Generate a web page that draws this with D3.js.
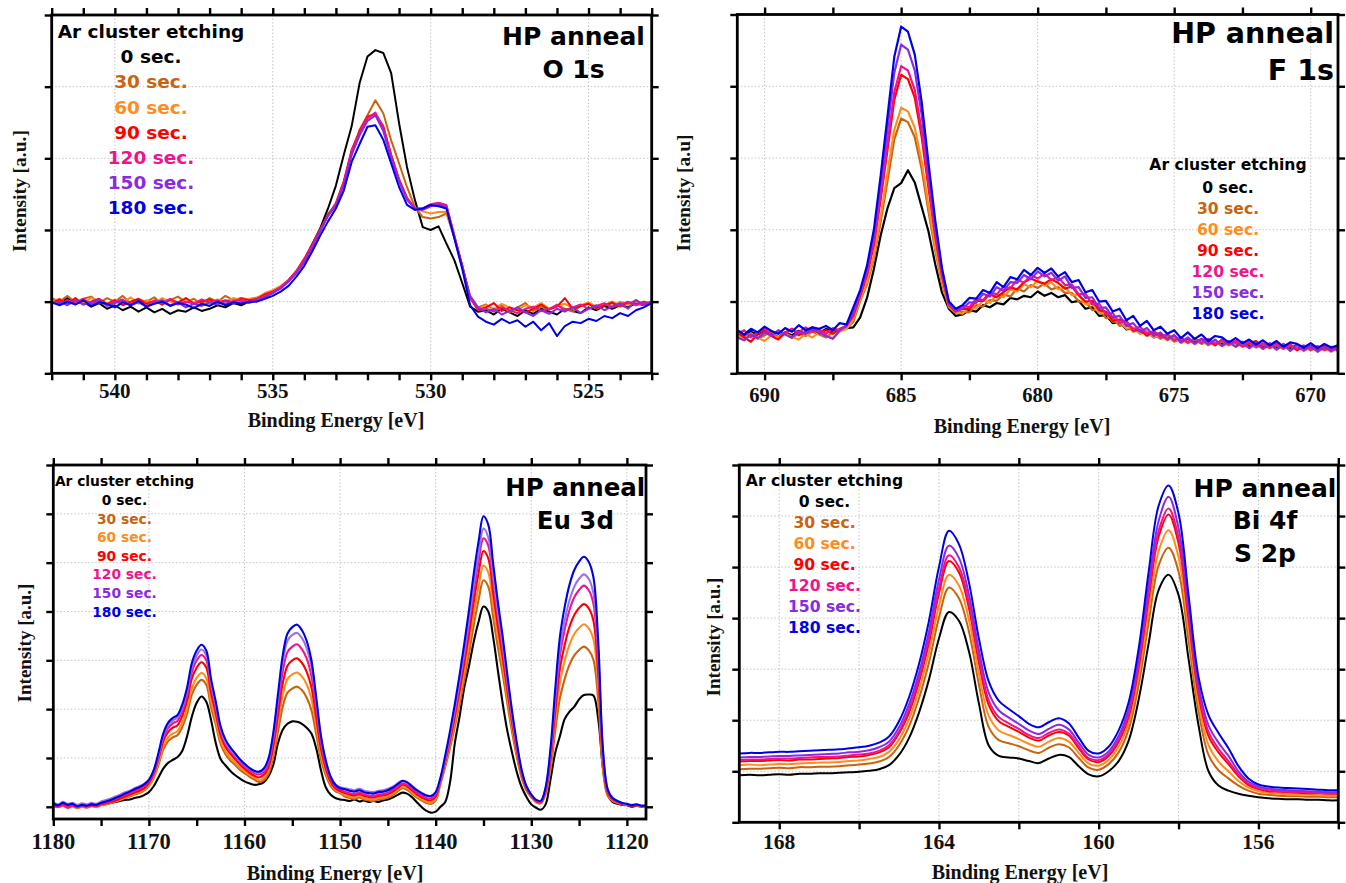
<!DOCTYPE html>
<html>
<head>
<meta charset="utf-8">
<script src="https://cdn.jsdelivr.net/npm/d3@7"></script>
<style>
  html, body { margin: 0; padding: 0; background: #ffffff; }
  svg { display: block; }
</style>
</head>
<body>
<svg id="chart" width="1346" height="883"></svg>
<script>
// ---------------- data ----------------
const etchLabels = ["0 sec.", "30 sec.", "60 sec.", "90 sec.", "120 sec.", "150 sec.", "180 sec."];
const legendTitle = "Ar cluster etching";

// O 1s : binding energy from 542 eV down, 0.25 eV per sample
const o1sStart = 542, o1sStep = 0.25;
const o1s_0 = [1.02,0.98,1.05,0.97,1.0,0.93,0.98,0.9,0.95,0.88,0.93,0.86,0.92,0.85,0.9,0.83,0.88,0.86,0.92,0.87,0.9,0.95,0.92,0.98,0.95,1.0,
  1.02,1.08,1.12,1.2,1.3,1.42,1.58,1.8,2.02,2.3,2.62,
  3.05,3.45,4.05,4.42,4.51,4.47,4.19,3.49,2.88,2.42,2.04,2.0,2.05,1.81,1.58,1.26,0.93,0.86,
  0.88,0.82,0.9,0.85,0.8,0.88,0.83,0.9,0.86,0.82,0.9,0.87,0.84,0.92,0.88,0.94,0.9,0.95,0.92,0.98,0.95,1.0];
const o1s_30 = [1.05,1.0,1.08,0.99,1.04,1.07,0.98,1.05,1.0,1.08,0.97,1.03,1.0,1.06,0.96,1.02,1.07,0.99,1.04,0.97,1.05,1.0,1.08,1.02,1.05,1.03,
  1.06,1.1,1.15,1.2,1.28,1.4,1.55,1.75,1.98,2.2,2.38,
  2.68,3.05,3.4,3.6,3.81,3.63,3.25,2.93,2.6,2.32,2.18,2.16,2.18,2.23,1.9,1.5,1.05,0.92,
  0.96,0.88,0.95,0.85,0.92,0.98,0.87,0.93,0.89,0.96,0.9,0.86,0.94,0.98,0.9,0.95,1.0,0.93,0.97,1.02,0.95,0.98];
const o1s_60 = [1.0,1.04,0.96,1.02,0.98,1.05,1.01,0.95,1.03,0.99,1.06,0.97,1.02,0.98,1.05,1.0,0.96,1.04,0.99,1.02,0.97,1.03,1.0,1.05,1.02,1.04,
  1.05,1.12,1.16,1.22,1.3,1.42,1.58,1.78,2.0,2.2,2.35,
  2.65,3.1,3.35,3.55,3.6,3.42,3.05,2.72,2.45,2.3,2.26,2.23,2.25,2.25,1.9,1.5,1.05,0.9,
  0.95,0.9,0.97,0.92,0.88,0.95,0.92,0.98,0.9,0.94,0.97,0.91,0.95,0.99,0.93,0.97,0.94,1.0,0.96,0.99,0.97,1.0];
const o1s_90 = [0.98,1.03,0.97,1.05,0.96,1.0,1.04,0.97,1.02,0.95,1.0,1.04,0.97,1.01,0.96,1.03,0.99,1.05,0.97,1.0,1.03,0.98,1.02,0.99,1.04,1.02,
  1.04,1.1,1.14,1.2,1.3,1.43,1.6,1.8,2.0,2.22,2.36,
  2.68,3.12,3.38,3.58,3.62,3.45,3.05,2.7,2.45,2.3,2.3,2.35,2.37,2.33,1.92,1.5,1.05,0.88,
  0.92,0.98,0.87,0.92,0.88,0.85,0.9,0.96,0.89,0.93,1.05,0.9,0.94,0.97,0.91,0.95,0.98,0.94,0.99,0.96,1.0,0.97];
const o1s_120 = [1.0,0.96,1.02,0.98,1.04,0.97,1.01,0.95,1.0,1.03,0.96,1.0,0.94,1.02,0.98,1.04,0.96,1.0,0.97,1.03,0.99,1.02,0.97,1.01,1.03,1.0,
  1.03,1.08,1.13,1.2,1.3,1.42,1.58,1.78,2.0,2.2,2.36,
  2.66,3.1,3.36,3.56,3.64,3.42,3.02,2.7,2.44,2.3,2.3,2.36,2.38,2.35,1.92,1.5,1.06,0.9,
  0.9,0.86,0.92,0.88,0.84,0.9,0.93,0.87,0.9,0.95,0.88,0.92,0.96,0.9,0.94,0.98,0.92,0.96,1.0,0.95,0.98,0.96];
const o1s_150 = [0.97,1.0,0.95,1.02,0.96,0.99,1.03,0.94,0.98,1.01,0.95,0.99,0.93,0.98,1.02,0.95,0.99,0.92,0.97,0.94,0.99,0.96,1.01,0.97,1.0,0.98,
  1.02,1.06,1.12,1.18,1.28,1.4,1.55,1.76,1.98,2.2,2.34,
  2.62,3.05,3.32,3.52,3.6,3.38,3.0,2.68,2.42,2.3,2.28,2.33,2.35,2.32,1.9,1.48,1.08,0.92,
  0.85,0.9,0.82,0.87,0.92,0.85,0.8,0.88,0.83,0.9,0.86,0.92,0.84,0.9,0.95,0.88,0.93,0.98,0.9,1.02,0.96,1.0];
const o1s_180 = [0.99,0.95,1.0,0.96,1.02,0.94,0.99,0.97,0.92,0.99,0.95,1.01,0.93,0.97,1.0,0.94,0.98,0.96,0.91,0.97,0.94,1.0,0.95,0.99,0.97,1.0,
  1.0,1.04,1.08,1.14,1.22,1.35,1.5,1.7,1.92,2.12,2.3,
  2.55,2.95,3.2,3.44,3.46,3.26,2.93,2.6,2.35,2.28,2.3,2.35,2.33,2.3,1.88,1.46,0.95,0.79,
  0.72,0.68,0.76,0.7,0.74,0.65,0.72,0.6,0.7,0.52,0.66,0.72,0.7,0.76,0.73,0.8,0.77,0.84,0.8,0.88,0.92,0.98];

// F 1s : from 691 eV down, 0.25 eV per sample
const f1sStart = 691, f1sStep = 0.25;
const f1s_0 = [0.6,0.52,0.58,0.54,0.6,0.55,0.5,0.57,0.53,0.59,0.55,0.6,0.56,0.62,0.58,0.6,0.63,
  0.64,0.78,1.05,1.45,1.92,2.3,2.58,2.65,2.83,2.66,2.32,1.98,1.52,1.12,0.9,0.8,
  0.82,0.88,0.86,0.95,0.92,0.98,0.96,1.05,1.03,1.08,1.06,1.14,1.08,1.12,1.06,1.09,0.99,1.01,0.9,0.92,
  0.8,0.81,0.7,0.72,0.61,0.63,0.56,0.58,0.5,0.53,0.47,0.5,
  0.44,0.47,0.43,0.46,0.41,0.45,0.4,0.44,0.42,0.39,0.38,0.42,0.37,0.41,0.36,0.4,0.35,0.39,0.34,0.38,0.36,0.37,0.33,0.36];
const f1s_30 = [0.55,0.5,0.56,0.48,0.53,0.58,0.5,0.55,0.49,0.56,0.52,0.58,0.54,0.5,0.57,0.6,0.62,
  0.72,1.01,1.24,1.59,2.11,2.68,3.26,3.55,3.5,3.29,2.85,2.26,1.71,1.25,0.92,0.84,
  0.86,0.85,0.95,0.93,1.02,1.01,1.1,1.07,1.18,1.14,1.23,1.19,1.25,1.17,1.2,1.12,1.12,1.0,1.0,0.88,
  0.89,0.77,0.78,0.66,0.68,0.58,0.61,0.52,0.56,0.48,0.52,0.44,
  0.48,0.42,0.47,0.41,0.45,0.4,0.44,0.39,0.43,0.38,0.41,0.36,0.4,0.35,0.39,0.34,0.38,0.33,0.37,0.32,0.36,0.32,0.35,0.31];
const f1s_60 = [0.52,0.47,0.55,0.5,0.45,0.53,0.49,0.56,0.51,0.47,0.55,0.5,0.57,0.52,0.49,0.58,0.62,
  0.75,1.03,1.27,1.64,2.19,2.79,3.39,3.7,3.65,3.42,2.96,2.34,1.76,1.28,0.93,0.85,
  0.83,0.92,0.9,1.02,0.98,1.1,1.06,1.17,1.14,1.24,1.2,1.29,1.22,1.27,1.17,1.2,1.09,1.1,0.96,0.97,
  0.84,0.84,0.72,0.73,0.62,0.64,0.55,0.58,0.5,0.53,0.46,0.5,
  0.42,0.47,0.41,0.45,0.39,0.44,0.38,0.42,0.37,0.41,0.35,0.4,0.34,0.39,0.33,0.38,0.32,0.37,0.31,0.36,0.31,0.35,0.3,0.35];
const f1s_90 = [0.58,0.5,0.44,0.55,0.6,0.52,0.47,0.57,0.62,0.53,0.58,0.64,0.56,0.6,0.55,0.62,0.66,
  0.8,1.08,1.37,1.79,2.42,3.11,3.81,4.16,4.1,3.84,3.3,2.59,1.91,1.35,0.95,0.86,
  0.9,0.89,1.01,1.01,1.1,1.06,1.13,1.2,1.17,1.27,1.32,1.28,1.25,1.31,1.26,1.18,1.21,1.09,1.0,1.01,
  0.88,0.86,0.73,0.75,0.72,0.6,0.6,0.53,0.58,0.53,0.48,0.53,
  0.44,0.48,0.42,0.48,0.45,0.39,0.47,0.41,0.45,0.37,0.42,0.45,0.36,0.38,0.42,0.36,0.4,0.32,0.38,0.37,0.32,0.39,0.33,0.37];
const f1s_120 = [0.55,0.6,0.5,0.57,0.63,0.53,0.59,0.55,0.62,0.57,0.64,0.58,0.61,0.55,0.63,0.6,0.67,
  0.82,1.1,1.39,1.83,2.48,3.2,3.92,4.28,4.22,3.95,3.39,2.65,1.95,1.37,0.96,0.87,
  0.94,0.92,1.04,1.02,1.13,1.1,1.21,1.18,1.31,1.26,1.37,1.32,1.39,1.3,1.34,1.23,1.24,1.1,1.11,0.96,
  0.97,0.82,0.84,0.7,0.73,0.61,0.65,0.55,0.59,0.5,0.55,0.46,
  0.5,0.43,0.49,0.42,0.48,0.41,0.46,0.4,0.45,0.38,0.44,0.37,0.42,0.36,0.41,0.35,0.4,0.34,0.39,0.33,0.38,0.33,0.37,0.32];
const f1s_150 = [0.5,0.46,0.54,0.49,0.57,0.52,0.6,0.54,0.5,0.58,0.55,0.62,0.57,0.52,0.48,0.6,0.66,
  0.85,1.13,1.45,1.92,2.63,3.41,4.19,4.58,4.51,4.22,3.61,2.81,2.05,1.42,0.98,0.88,
  0.9,0.99,0.98,1.11,1.07,1.2,1.15,1.27,1.26,1.37,1.31,1.42,1.35,1.4,1.29,1.35,1.19,1.2,1.05,1.06,
  0.91,0.92,0.78,0.8,0.66,0.7,0.58,0.63,0.52,0.57,0.47,0.53,
  0.43,0.5,0.41,0.48,0.4,0.47,0.38,0.45,0.37,0.44,0.35,0.43,0.34,0.42,0.33,0.41,0.31,0.4,0.32,0.38,0.3,0.37,0.31,0.36];
const f1s_180 = [0.6,0.54,0.62,0.57,0.65,0.59,0.55,0.63,0.58,0.67,0.6,0.64,0.62,0.66,0.6,0.7,0.68,
  0.92,1.16,1.5,2.0,2.75,3.58,4.41,4.83,4.76,4.44,3.79,2.94,2.13,1.46,1.0,0.9,
  0.95,1.05,1.04,1.16,1.12,1.27,1.2,1.34,1.31,1.44,1.37,1.47,1.4,1.46,1.35,1.41,1.27,1.3,1.13,1.16,
  1.0,1.01,0.86,0.9,0.74,0.8,0.66,0.73,0.6,0.65,0.55,0.6,
  0.49,0.57,0.48,0.54,0.45,0.52,0.5,0.43,0.49,0.42,0.47,0.4,0.46,0.39,0.45,0.37,0.43,0.41,0.36,0.42,0.35,0.41,0.36,0.39];

// Eu 3d : from 1180 eV down, 0.5 eV per sample
const eu3dStart = 1180, eu3dStep = 0.5;
const eu3d_0 = [0.04,0.0,0.05,0.01,0.03,-0.01,0.02,0.0,0.03,0.01,0.04,0.06,0.08,0.1,0.12,0.14,0.15,0.18,0.2,0.24,
  0.3,0.42,0.6,0.78,0.9,0.96,1.02,1.15,1.45,1.85,2.13,2.26,2.15,1.78,1.3,0.98,0.85,0.74,0.65,0.58,0.52,0.48,0.45,0.46,
  0.5,0.62,0.85,1.3,1.58,1.7,1.75,1.74,1.7,1.62,1.5,1.2,0.75,0.4,0.25,0.18,0.15,
  0.14,0.12,0.15,0.11,0.13,0.1,0.12,0.1,0.13,0.15,0.19,0.24,0.29,0.27,0.2,0.1,0.0,-0.08,-0.12,-0.1,
  0.0,0.1,0.5,1.3,1.85,2.45,2.9,3.4,3.8,4.1,4.0,3.49,2.8,2.13,1.55,1.1,0.7,0.4,0.2,0.05,-0.02,-0.06,
  0.05,0.55,1.1,1.45,1.8,1.95,2.05,2.2,2.29,2.3,2.28,1.8,0.8,0.25,0.1,0.06,0.04,0.03,0.0,0.02,0.0,0.01];
const eu3d_30 = [0.01,-0.01,0.02,-0.02,0.01,-0.03,0.0,-0.02,0.01,0.0,0.03,0.05,0.08,0.11,0.14,0.18,0.21,0.25,0.28,0.33,
  0.43,0.59,0.86,1.17,1.34,1.42,1.47,1.64,1.91,2.3,2.5,2.6,2.5,2.04,1.68,1.29,1.08,0.95,0.86,0.76,0.69,0.62,0.56,0.51,
  0.54,0.67,1.01,1.53,2.05,2.34,2.42,2.46,2.39,2.24,1.98,1.49,0.97,0.65,0.43,0.32,0.28,
  0.21,0.18,0.16,0.19,0.15,0.13,0.12,0.15,0.16,0.19,0.24,0.31,0.38,0.35,0.27,0.19,0.13,0.08,0.06,0.13,
  0.47,0.82,1.21,1.64,2.11,2.61,3.16,3.74,4.25,4.64,4.51,3.9,3.28,2.73,2.11,1.52,1.01,0.59,0.33,0.2,0.09,0.07,
  0.26,0.75,1.54,2.23,2.62,2.91,3.1,3.21,3.28,3.21,3.01,2.18,0.75,0.22,0.12,0.08,0.05,0.04,0.02,0.03,0.01,0.02];
const eu3d_60 = [0.02,0.0,0.03,-0.01,0.02,-0.02,0.01,0.0,0.02,0.0,0.04,0.06,0.09,0.12,0.15,0.19,0.23,0.27,0.3,0.35,
  0.45,0.62,0.91,1.24,1.42,1.5,1.55,1.73,2.02,2.43,2.64,2.74,2.64,2.16,1.77,1.36,1.14,1.01,0.91,0.81,0.73,0.66,0.61,0.55,
  0.59,0.74,1.12,1.7,2.29,2.62,2.71,2.75,2.67,2.51,2.21,1.67,1.08,0.72,0.48,0.35,0.3,
  0.24,0.21,0.19,0.22,0.18,0.16,0.15,0.18,0.19,0.22,0.27,0.34,0.41,0.38,0.3,0.22,0.16,0.11,0.08,0.16,
  0.5,0.87,1.29,1.74,2.24,2.78,3.36,3.98,4.52,4.94,4.8,4.15,3.49,2.9,2.24,1.62,1.08,0.62,0.35,0.21,0.1,0.08,
  0.29,0.85,1.75,2.55,2.99,3.32,3.54,3.66,3.74,3.66,3.43,2.48,0.85,0.26,0.13,0.09,0.06,0.04,0.03,0.03,0.01,0.02];
const eu3d_90 = [0.03,0.01,0.04,0.0,0.03,0.0,0.02,0.01,0.03,0.01,0.05,0.07,0.1,0.13,0.17,0.21,0.25,0.29,0.33,0.38,
  0.49,0.67,0.98,1.34,1.53,1.62,1.67,1.87,2.18,2.63,2.85,2.96,2.85,2.33,1.91,1.47,1.23,1.09,0.98,0.87,0.78,0.7,0.64,0.6,
  0.65,0.81,1.23,1.88,2.53,2.89,3.0,3.04,2.95,2.77,2.45,1.84,1.19,0.79,0.52,0.38,0.32,
  0.28,0.25,0.23,0.26,0.22,0.2,0.19,0.22,0.23,0.26,0.31,0.38,0.45,0.42,0.34,0.26,0.2,0.15,0.13,0.21,
  0.53,0.92,1.36,1.85,2.38,2.95,3.56,4.22,4.8,5.24,5.09,4.4,3.7,3.08,2.38,1.72,1.14,0.66,0.37,0.22,0.12,0.09,
  0.32,0.95,1.94,2.83,3.32,3.69,3.93,4.07,4.15,4.07,3.81,2.75,0.95,0.28,0.15,0.1,0.06,0.05,0.02,0.04,0.02,0.02];
const eu3d_120 = [0.04,0.0,0.05,-0.02,0.03,-0.01,0.02,0.0,0.03,0.02,0.06,0.09,0.12,0.16,0.2,0.24,0.28,0.33,0.37,0.43,
  0.52,0.7,1.03,1.41,1.61,1.71,1.76,1.97,2.3,2.76,3.0,3.11,3.0,2.45,2.01,1.55,1.29,1.14,1.03,0.92,0.82,0.75,0.69,0.66,
  0.7,0.88,1.34,2.06,2.77,3.17,3.28,3.33,3.23,3.04,2.68,2.01,1.3,0.85,0.56,0.41,0.35,
  0.31,0.28,0.26,0.29,0.25,0.23,0.22,0.25,0.26,0.29,0.34,0.41,0.48,0.45,0.37,0.29,0.23,0.18,0.17,0.25,
  0.56,0.97,1.43,1.94,2.5,3.1,3.75,4.44,5.04,5.5,5.35,4.63,3.89,3.24,2.5,1.8,1.2,0.69,0.39,0.23,0.13,0.1,
  0.35,1.04,2.12,3.09,3.63,4.03,4.29,4.44,4.53,4.44,4.16,3.01,1.04,0.31,0.16,0.1,0.07,0.04,0.03,0.04,0.01,0.02];
const eu3d_150 = [0.09,0.05,0.1,0.06,0.08,0.04,0.07,0.05,0.08,0.06,0.11,0.14,0.17,0.21,0.25,0.3,0.33,0.38,0.42,0.47,
  0.55,0.74,1.06,1.45,1.67,1.77,1.83,2.04,2.38,2.86,3.1,3.22,3.1,2.54,2.08,1.6,1.33,1.18,1.06,0.95,0.86,0.78,0.72,0.7,
  0.76,0.95,1.44,2.2,2.97,3.4,3.52,3.56,3.46,3.25,2.87,2.16,1.4,0.93,0.62,0.46,0.4,
  0.38,0.36,0.34,0.37,0.33,0.31,0.3,0.33,0.34,0.37,0.41,0.48,0.53,0.51,0.43,0.35,0.29,0.24,0.22,0.29,
  0.57,1.0,1.48,2.0,2.58,3.2,3.87,4.58,5.2,5.7,5.52,4.78,4.01,3.34,2.58,1.86,1.24,0.72,0.41,0.25,0.14,0.12,
  0.38,1.1,2.24,3.25,3.82,4.23,4.51,4.67,4.76,4.67,4.37,3.17,1.1,0.34,0.18,0.12,0.08,0.05,0.04,0.04,0.02,0.02];
const eu3d_180 = [0.07,0.03,0.08,0.04,0.06,0.01,0.04,0.02,0.05,0.04,0.08,0.11,0.14,0.18,0.22,0.27,0.31,0.36,0.4,0.46,
  0.55,0.75,1.1,1.5,1.72,1.82,1.88,2.1,2.45,2.95,3.2,3.32,3.2,2.62,2.15,1.65,1.38,1.22,1.1,0.98,0.88,0.8,0.74,0.72,
  0.78,0.98,1.5,2.3,3.1,3.55,3.68,3.73,3.62,3.4,3.0,2.25,1.45,0.95,0.62,0.45,0.38,
  0.36,0.33,0.31,0.34,0.3,0.28,0.27,0.3,0.31,0.34,0.39,0.46,0.53,0.5,0.42,0.34,0.28,0.23,0.22,0.3,
  0.6,1.05,1.55,2.1,2.7,3.35,4.05,4.8,5.45,5.95,5.78,5.0,4.2,3.5,2.7,1.95,1.3,0.75,0.42,0.25,0.14,0.12,
  0.4,1.17,2.4,3.49,4.1,4.55,4.85,5.02,5.12,5.02,4.7,3.4,1.17,0.35,0.18,0.12,0.08,0.06,0.03,0.05,0.02,0.03];

// Bi 4f / S 2p : from 169 eV down, 0.25 eV per sample
const bi4fStart = 169, bi4fStep = 0.25;
const bi4f_0 = [0.92,0.93,0.92,0.93,0.94,0.93,0.95,0.95,0.96,0.96,0.97,0.98,0.99,1.01,1.04,1.12,1.32,1.65,2.15,2.8,3.6,4.12,3.95,3.35,2.33,1.5,1.3,1.27,1.25,1.2,1.16,1.25,1.32,1.28,1.1,0.94,0.9,1.0,1.2,1.6,2.4,3.5,4.55,4.85,4.45,3.2,1.9,1.0,0.72,0.62,0.56,0.52,0.49,0.47,0.46,0.45,0.45,0.44,0.44,0.43,0.43];
const bi4f_30 = [1.04,1.05,1.05,1.06,1.07,1.06,1.08,1.08,1.09,1.09,1.1,1.12,1.13,1.15,1.19,1.28,1.51,1.88,2.43,3.13,4.01,4.6,4.39,3.74,2.7,1.86,1.61,1.55,1.49,1.41,1.36,1.46,1.53,1.47,1.26,1.07,1.03,1.14,1.37,1.82,2.69,3.91,5.03,5.38,4.91,3.56,2.18,1.32,1.02,0.86,0.72,0.62,0.56,0.54,0.52,0.51,0.51,0.5,0.5,0.49,0.49];
const bi4f_60 = [1.12,1.13,1.12,1.13,1.14,1.14,1.15,1.16,1.17,1.17,1.18,1.2,1.21,1.24,1.28,1.38,1.62,2.02,2.59,3.33,4.24,4.85,4.64,3.97,2.91,2.08,1.8,1.71,1.63,1.54,1.48,1.58,1.65,1.58,1.36,1.15,1.11,1.22,1.48,1.95,2.86,4.14,5.31,5.72,5.19,3.78,2.34,1.51,1.19,1.0,0.81,0.68,0.61,0.58,0.56,0.55,0.55,0.54,0.53,0.52,0.52];
const bi4f_90 = [1.19,1.2,1.2,1.21,1.22,1.21,1.23,1.23,1.24,1.25,1.26,1.28,1.29,1.32,1.37,1.47,1.74,2.15,2.75,3.52,4.48,5.12,4.9,4.2,3.13,2.29,1.98,1.87,1.77,1.66,1.6,1.7,1.77,1.7,1.45,1.23,1.18,1.3,1.58,2.07,3.03,4.38,5.59,6.03,5.46,3.99,2.5,1.69,1.37,1.14,0.9,0.73,0.65,0.61,0.6,0.59,0.58,0.57,0.57,0.56,0.56];
const bi4f_120 = [1.22,1.23,1.23,1.24,1.25,1.25,1.26,1.27,1.28,1.28,1.29,1.31,1.33,1.35,1.4,1.51,1.78,2.21,2.82,3.61,4.58,5.23,5.0,4.3,3.22,2.38,2.06,1.94,1.83,1.71,1.65,1.75,1.82,1.74,1.49,1.26,1.22,1.34,1.62,2.13,3.1,4.48,5.71,6.15,5.57,4.08,2.57,1.77,1.44,1.2,0.94,0.76,0.67,0.63,0.61,0.6,0.6,0.59,0.58,0.57,0.57];
const bi4f_150 = [1.27,1.28,1.28,1.29,1.3,1.3,1.31,1.32,1.33,1.34,1.35,1.37,1.38,1.41,1.47,1.58,1.86,2.31,2.93,3.74,4.75,5.42,5.18,4.46,3.37,2.53,2.19,2.05,1.93,1.8,1.73,1.83,1.91,1.82,1.56,1.32,1.27,1.39,1.69,2.22,3.22,4.65,5.9,6.38,5.76,4.23,2.68,1.9,1.56,1.3,1.0,0.8,0.7,0.66,0.64,0.63,0.62,0.61,0.6,0.59,0.59];
const bi4f_180 = [1.35,1.36,1.36,1.37,1.38,1.38,1.39,1.4,1.41,1.42,1.43,1.45,1.47,1.5,1.56,1.68,1.98,2.45,3.1,3.95,5.0,5.71,5.45,4.7,3.6,2.75,2.38,2.22,2.08,1.93,1.86,1.96,2.04,1.94,1.66,1.4,1.35,1.48,1.8,2.35,3.4,4.9,6.2,6.6,6.05,4.45,2.85,2.1,1.75,1.45,1.1,0.86,0.74,0.7,0.68,0.67,0.66,0.65,0.64,0.63,0.63];

// ---------------- drawing ----------------
const serif = "'Liberation Serif','Times New Roman',serif";
const sans = "'DejaVu Sans',Verdana,sans-serif";
const lineColors = ["#000000", "#c8640f", "#ff8c1e", "#ff0000", "#f0148c", "#8a2be2", "#0000e6"];
const legendColors = ["#000000", "#c8640f", "#ff8c1e", "#ff0000", "#f0148c", "#8a2be2", "#0000e6"];

const svg = d3.select("#chart");

const panels = [
  {
    id: "o1s", left: 51.7, right: 651.7, top: 15, bottom: 373.3,
    xDomain: [542, 523], yDomain: [0, 5],
    xTicks: d3.range(523, 543, 1), xLabels: [540, 535, 530, 525], xGrid: [540, 535, 530, 525],
    yTicks: [0, 1, 2, 3, 4, 5],
    start: o1sStart, step: o1sStep,
    series: [o1s_0, o1s_30, o1s_60, o1s_90, o1s_120, o1s_150, o1s_180],
    curve: d3.curveLinear, lw: 2, colors: lineColors,
    labelY: 398, labelSize: 21, xTitle: { x: 336, y: 427, size: 20 },
    yTitle: { text: "Intensity [a.u.]", x: 25.5, y: 191, size: 19.5 },
    head: [{ t: "HP anneal", x: 573.5, y: 45, anchor: "middle", size: 25 },
           { t: "O 1s", x: 573.5, y: 78.3, anchor: "middle", size: 25 }],
    legend: { x: 151, titleY: 37.7, firstY: 63.3, gap: 25.17, size: 18.5 }
  },
  {
    id: "f1s", left: 737.3, right: 1338, top: 14.5, bottom: 373.3,
    xDomain: [691, 669], yDomain: [0, 5],
    xTicks: d3.range(670, 690.1, 2.5), xLabels: [690, 685, 680, 675, 670], xGrid: [690, 685, 680, 675, 670],
    yTicks: [0, 1, 2, 3, 4, 5],
    start: f1sStart, step: f1sStep,
    series: [f1s_0, f1s_30, f1s_60, f1s_90, f1s_120, f1s_150, f1s_180],
    curve: d3.curveLinear, lw: 2.2, colors: lineColors,
    labelY: 402, labelSize: 20.5, xTitle: { x: 1022, y: 433, size: 20 },
    yTitle: { text: "Intensity [a.u]", x: 690, y: 193, size: 19.5 },
    head: [{ t: "HP anneal", x: 1334, y: 43.3, anchor: "end", size: 28.5 },
           { t: "F 1s", x: 1334, y: 80, anchor: "end", size: 28.5 }],
    legend: { x: 1228, titleY: 170, firstY: 192.7, gap: 21.1, size: 15.6 }
  },
  {
    id: "eu3d", left: 53.3, right: 646, top: 465, bottom: 819,
    xDomain: [1180, 1118], yDomain: [-0.25, 7],
    xTicks: d3.range(1120, 1181, 5), xLabels: [1180, 1170, 1160, 1150, 1140, 1130, 1120], xGrid: [1170, 1160, 1150, 1140, 1130, 1120],
    yTicks: [0, 1, 2, 3, 4, 5, 6, 7],
    start: eu3dStart, step: eu3dStep,
    series: [eu3d_0, eu3d_30, eu3d_60, eu3d_90, eu3d_120, eu3d_150, eu3d_180],
    curve: d3.curveCatmullRom.alpha(0.5), lw: 2.1,
    colors: ["#000000", "#c8640f", "#ff8c1e", "#ff0000", "#f0148c", "#9b72e2", "#0000e6"],
    labelY: 849, labelSize: 22.5, xTitle: { x: 335, y: 880, size: 20 },
    yTitle: { text: "Intensity [a.u.]", x: 31, y: 643, size: 19 },
    head: [{ t: "HP anneal", x: 575.3, y: 496, anchor: "middle", size: 24.5 },
           { t: "Eu 3d", x: 575.3, y: 529, anchor: "middle", size: 24.5 }],
    legend: { x: 124.5, titleY: 485.7, firstY: 505, gap: 18.6, size: 13.8 }
  },
  {
    id: "bi4f", left: 739.3, right: 1338.3, top: 465, bottom: 822.3,
    xDomain: [169, 154], yDomain: [0, 7],
    xTicks: d3.range(154, 169, 2), xLabels: [168, 164, 160, 156], xGrid: [168, 166, 164, 162, 160, 158, 156],
    yTicks: [0, 1, 2, 3, 4, 5, 6, 7],
    start: bi4fStart, step: bi4fStep,
    series: [bi4f_0, bi4f_30, bi4f_60, bi4f_90, bi4f_120, bi4f_150, bi4f_180],
    curve: d3.curveCatmullRom.alpha(0.5), lw: 2, colors: lineColors,
    labelY: 849, labelSize: 21.5, xTitle: { x: 1020, y: 879, size: 20 },
    yTitle: { text: "Intensity [a.u.]", x: 720, y: 637, size: 19 },
    head: [{ t: "HP anneal", x: 1265, y: 497, anchor: "middle", size: 25 },
           { t: "Bi 4f", x: 1265, y: 529, anchor: "middle", size: 25 },
           { t: "S 2p", x: 1265, y: 562, anchor: "middle", size: 25 }],
    legend: { x: 824.5, titleY: 485.7, firstY: 506.7, gap: 21.1, size: 15.6 }
  }
];

panels.forEach(p => {
  const g = svg.append("g").attr("class", "panel-" + p.id);
  const x = d3.scaleLinear().domain(p.xDomain).range([p.left, p.right]);
  const y = d3.scaleLinear().domain(p.yDomain).range([p.bottom, p.top]);

  // dotted grid
  const grid = g.append("g").attr("stroke", "#c4c4c4").attr("stroke-width", 1).attr("stroke-dasharray", "1.5,2");
  grid.selectAll("line.vx").data(p.xGrid).join("line").attr("class", "vx")
    .attr("x1", d => x(d)).attr("x2", d => x(d)).attr("y1", p.top).attr("y2", p.bottom);
  grid.selectAll("line.hy").data(p.yTicks).join("line").attr("class", "hy")
    .attr("x1", p.left).attr("x2", p.right).attr("y1", d => y(d)).attr("y2", d => y(d));

  // spectra
  const clipId = "clip-" + p.id;
  g.append("clipPath").attr("id", clipId).append("rect")
    .attr("x", p.left).attr("y", p.top).attr("width", p.right - p.left).attr("height", p.bottom - p.top);
  const energies = d3.range(p.series[0].length).map(i => p.start - i * p.step);
  const line = d3.line().x((d, i) => x(energies[i])).y(d => y(d)).curve(p.curve);
  const plot = g.append("g").attr("clip-path", `url(#${clipId})`);
  p.series.forEach((s, k) => {
    plot.append("path").attr("d", line(s)).attr("fill", "none")
      .attr("stroke", p.colors[k]).attr("stroke-width", p.lw)
      .attr("stroke-linejoin", "round").attr("stroke-linecap", "round");
  });

  // ticks on all four sides, pointing outward
  const tick = 7;
  const axes = [
    [d3.axisBottom(x).tickValues(p.xTicks), `translate(0,${p.bottom})`],
    [d3.axisTop(x).tickValues(p.xTicks), `translate(0,${p.top})`],
    [d3.axisLeft(y).tickValues(p.yTicks), `translate(${p.left},0)`],
    [d3.axisRight(y).tickValues(p.yTicks), `translate(${p.right},0)`]
  ];
  axes.forEach(([ax, tr]) => {
    const a = g.append("g").attr("transform", tr)
      .call(ax.tickSize(tick).tickSizeOuter(0).tickFormat(""));
    a.select(".domain").remove();
    a.selectAll(".tick line").attr("stroke", "#000").attr("stroke-width", 2.4);
    a.selectAll(".tick text").remove();
  });

  // frame
  g.append("rect").attr("x", p.left).attr("y", p.top)
    .attr("width", p.right - p.left).attr("height", p.bottom - p.top)
    .attr("fill", "none").attr("stroke", "#000").attr("stroke-width", 2.8);

  // tick labels
  g.append("g").selectAll("text").data(p.xLabels).join("text")
    .attr("x", d => x(d)).attr("y", p.labelY)
    .attr("text-anchor", "middle").attr("font-family", serif).attr("font-weight", "bold")
    .attr("font-size", p.labelSize).attr("fill", "#111").text(d => d);

  // axis titles
  g.append("text").attr("x", p.xTitle.x).attr("y", p.xTitle.y)
    .attr("text-anchor", "middle").attr("font-family", serif).attr("font-weight", "bold")
    .attr("font-size", p.xTitle.size).attr("fill", "#111").text("Binding Energy [eV]");
  g.append("text").attr("transform", `translate(${p.yTitle.x},${p.yTitle.y}) rotate(-90)`)
    .attr("text-anchor", "middle").attr("font-family", serif).attr("font-weight", "bold")
    .attr("font-size", p.yTitle.size).attr("fill", "#111").text(p.yTitle.text);

  // headline text
  p.head.forEach(h => {
    g.append("text").attr("x", h.x).attr("y", h.y).attr("text-anchor", h.anchor)
      .attr("font-family", sans).attr("font-weight", "bold").attr("font-size", h.size)
      .attr("fill", "#000").text(h.t);
  });

  // legend
  const L = p.legend;
  const lg = g.append("g").attr("font-family", sans).attr("font-weight", "bold")
    .attr("font-size", L.size).attr("text-anchor", "middle");
  lg.append("text").attr("x", L.x).attr("y", L.titleY).attr("fill", "#000").text(legendTitle);
  lg.selectAll("text.item").data(etchLabels).join("text").attr("class", "item")
    .attr("x", L.x).attr("y", (d, i) => L.firstY + i * L.gap)
    .attr("fill", (d, i) => legendColors[i]).text(d => d);
});
</script>
</body>
</html>
